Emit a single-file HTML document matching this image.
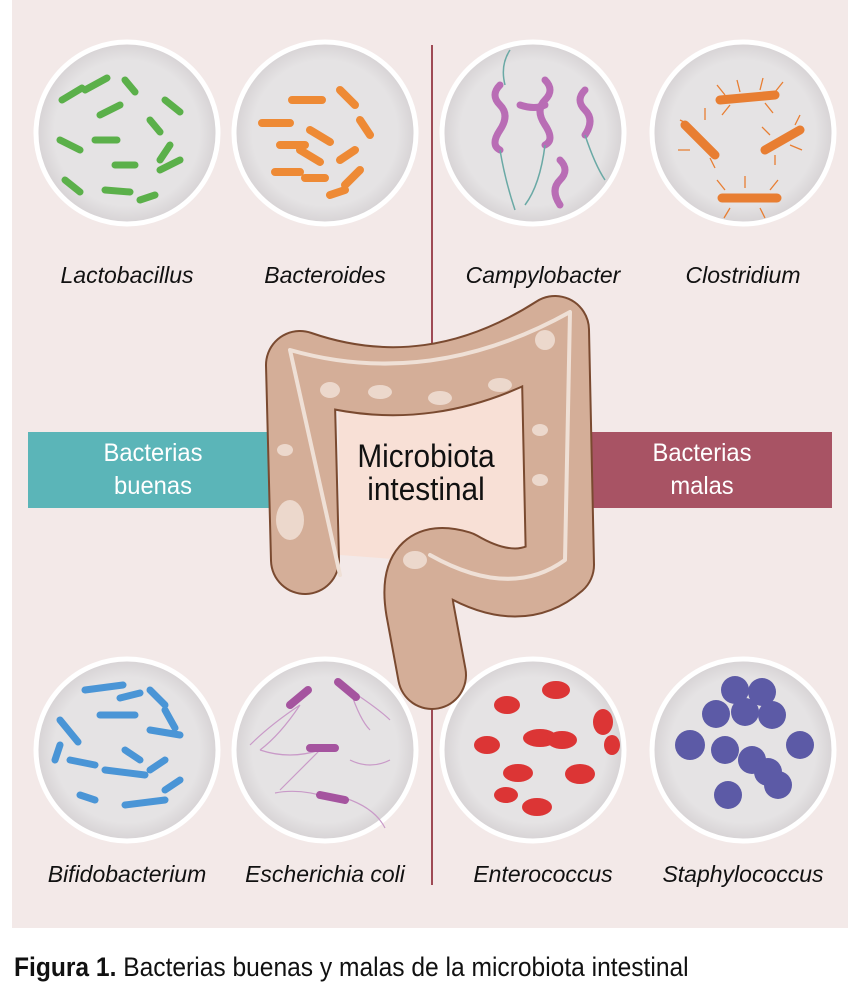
<!DOCTYPE html>
<html><head><meta charset="utf-8"><style>
body{margin:0;width:850px;height:1002px;background:#fff;position:relative;font-family:"Liberation Sans",sans-serif;overflow:hidden}
.lbl{position:absolute;width:200px;text-align:center;font-style:italic;font-size:23px;color:#111;transform:scaleX(1)}
.cap{position:absolute;left:14px;top:952px;font-size:27px;color:#111;transform:scaleX(.91);transform-origin:left}
</style></head><body>
<div style="position:absolute;left:12px;top:0;width:836px;height:928px;background:#f3e9e8"></div>
<svg width="850" height="1002" style="position:absolute;left:0;top:0">
<defs>
<radialGradient id="g" cx=".5" cy=".5" r=".5"><stop offset=".8" stop-color="#e5e3e4"/><stop offset="1" stop-color="#d6d2d4"/></radialGradient>
</defs>
<line x1="432" y1="45" x2="432" y2="885" stroke="#9e4a55" stroke-width="2"/>
<rect x="28" y="432" width="250" height="76" fill="#5bb5b8"/>
<rect x="572" y="432" width="260" height="76" fill="#a85364"/>
<g stroke="#fff" stroke-width="5" fill="url(#g)">
<circle cx="127" cy="133" r="91"/><circle cx="325" cy="133" r="91"/><circle cx="533" cy="133" r="91"/><circle cx="743" cy="133" r="91"/>
<circle cx="127" cy="750" r="91"/><circle cx="325" cy="750" r="91"/><circle cx="533" cy="750" r="91"/><circle cx="743" cy="750" r="91"/>
</g>
<g stroke="#5bb04a" stroke-width="7" stroke-linecap="round">
<path d="M62 100l20-12M100 115l20-10M85 90l22-12M125 80l10 12M60 140l20 10M95 140l22 0M115 165l20 0M165 100l15 12M150 120l10 12M160 170l20-10M65 180l15 12M105 190l25 2M140 200l15-5M170 145l-10 15"/></g>
<g stroke="#ee8a35" stroke-width="8" stroke-linecap="round">
<path d="M262 123l28 0M292 100l30 0M340 90l15 15M360 120l10 15M310 130l20 12M300 150l20 12M275 172l25 0M305 178l20 0M340 160l15-10M360 170l-15 15M345 190l-15 5M280 145l25 0"/></g>
<g fill="none" stroke="#b96db5" stroke-width="7" stroke-linecap="round">
<path d="M500 85q-10 10 0 20t0 25t0 20"/><path d="M545 80q10 10 0 20t0 25t0 20"/><path d="M560 160q10 10 0 20t0 25"/><path d="M585 90q-10 10 0 20t0 25"/><path d="M520 105q15 5 25 0"/></g>
<g fill="none" stroke="#6aa9a5" stroke-width="1.5"><path d="M500 150q5 30 15 60M545 145q-5 40 -20 60M585 135q10 30 20 45M505 85q-5-20 5-35"/></g>
<g stroke="#e87e32" stroke-width="1.3" fill="none"><path d="M725 95l-8-10M740 92l-3-12M760 90l3-12M775 92l8-10M730 105l-8 10M765 103l8 10M690 125l-10-5M705 120l0-12M690 150l-12 0M710 158l5 10M770 135l-8-8M795 125l5-10M790 145l12 5M775 155l0 10M725 190l-8-10M745 188l0-12M770 190l8-10M730 208l-6 10M760 208l5 10"/></g>
<g stroke="#e87e32" stroke-width="9" stroke-linecap="round">
<path d="M720 100l55-5M685 125l30 30M765 150l35-20M722 198l55 0"/></g>
<g stroke="#4a95d6" stroke-width="7" stroke-linecap="round">
<path d="M60 720l18 22M85 690l38-5M100 715l35 0M120 698l20-5M150 690l15 15M165 710l10 18M150 730l30 5M70 760l25 5M105 770l40 5M150 770l15-10M80 795l15 5M125 805l40-5M165 790l15-10M125 750l15 10M60 745l-5 15"/></g>
<g fill="none" stroke="#c99ac8" stroke-width="1.2"><path d="M300 705q-30 20-50 40M300 705q-20 30-40 45M350 690q10 30 20 40M350 690q30 20 40 30M320 750q-30 10-60 0M320 750q-20 20-40 40M350 760q20 10 40 0M330 798q-30-10-55-5M345 798q30 10 40 30"/></g>
<g stroke="#a5549f" stroke-width="8" stroke-linecap="round"><path d="M290 705l18-15M338 682l18 15M310 748l25 0M320 795l25 5"/></g>
<g fill="#dc3535">
<ellipse cx="507" cy="705" rx="13" ry="9"/><ellipse cx="556" cy="690" rx="14" ry="9"/><ellipse cx="603" cy="722" rx="10" ry="13"/><ellipse cx="487" cy="745" rx="13" ry="9"/><ellipse cx="540" cy="738" rx="17" ry="9"/><ellipse cx="562" cy="740" rx="15" ry="9"/><ellipse cx="518" cy="773" rx="15" ry="9"/><ellipse cx="580" cy="774" rx="15" ry="10"/><ellipse cx="506" cy="795" rx="12" ry="8"/><ellipse cx="537" cy="807" rx="15" ry="9"/><ellipse cx="612" cy="745" rx="8" ry="10"/>
</g>
<g fill="#5c5aa6">
<circle cx="735" cy="690" r="14"/><circle cx="762" cy="692" r="14"/><circle cx="716" cy="714" r="14"/><circle cx="745" cy="712" r="14"/><circle cx="772" cy="715" r="14"/><circle cx="690" cy="745" r="15"/><circle cx="725" cy="750" r="14"/><circle cx="752" cy="760" r="14"/><circle cx="768" cy="772" r="14"/><circle cx="800" cy="745" r="14"/><circle cx="778" cy="785" r="14"/><circle cx="728" cy="795" r="14"/>
</g>
<path d="M338 385 L545 340 L540 570 L340 555 Z" fill="#f8e0d6"/>
<g fill="none" stroke-linecap="round" stroke-linejoin="round">
<path d="M305 560 L300 365 Q430 410 555 330 L560 565 Q520 600 460 565 Q410 550 420 610 L432 675" stroke="#7a4a30" stroke-width="70"/>
<path d="M305 560 L300 365 Q430 410 555 330 L560 565 Q520 600 460 565 Q410 550 420 610 L432 675" stroke="#d4ae98" stroke-width="66"/>
<path d="M340 575 L290 350 Q430 390 570 312 L565 560 Q510 600 430 555" stroke="#efe0d6" stroke-width="4"/>
</g>
<g fill="#ecd8cc">
<ellipse cx="290" cy="520" rx="14" ry="20"/><ellipse cx="330" cy="390" rx="10" ry="8"/><ellipse cx="380" cy="392" rx="12" ry="7"/><ellipse cx="440" cy="398" rx="12" ry="7"/><ellipse cx="500" cy="385" rx="12" ry="7"/><ellipse cx="545" cy="340" rx="10" ry="10"/><ellipse cx="540" cy="430" rx="8" ry="6"/><ellipse cx="540" cy="480" rx="8" ry="6"/><ellipse cx="285" cy="450" rx="8" ry="6"/><ellipse cx="415" cy="560" rx="12" ry="9"/>
</g>
</svg>
<div style="position:absolute;left:28px;top:437px;width:250px;text-align:center;color:#fff;font-size:25px;line-height:33px;transform:scaleX(.95)">Bacterias<br>buenas</div>
<div style="position:absolute;left:572px;top:437px;width:260px;text-align:center;color:#fff;font-size:25px;line-height:33px;transform:scaleX(.95)">Bacterias<br>malas</div>
<div style="position:absolute;left:326px;top:440px;width:200px;text-align:center;color:#111;font-size:32px;line-height:33px;transform:scaleX(.93)">Microbiota<br>intestinal</div>
<div class="lbl" style="left:27px;top:262px">Lactobacillus</div>
<div class="lbl" style="left:225px;top:262px">Bacteroides</div>
<div class="lbl" style="left:443px;top:262px">Campylobacter</div>
<div class="lbl" style="left:643px;top:262px">Clostridium</div>
<div class="lbl" style="left:27px;top:861px">Bifidobacterium</div>
<div class="lbl" style="left:225px;top:861px">Escherichia coli</div>
<div class="lbl" style="left:443px;top:861px">Enterococcus</div>
<div class="lbl" style="left:643px;top:861px">Staphylococcus</div>
<div class="cap"><b>Figura 1.</b> Bacterias buenas y malas de la microbiota intestinal</div>
</body></html>
